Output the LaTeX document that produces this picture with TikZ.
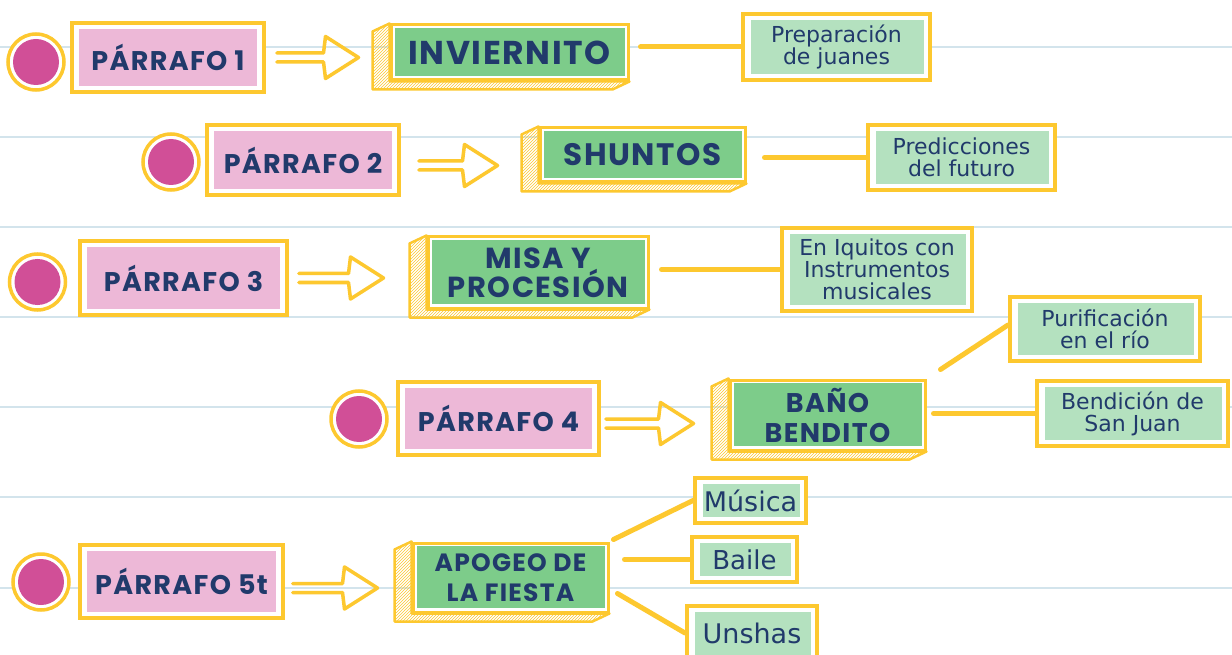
\documentclass[tikz,border=0pt]{standalone}
\usepackage{fontspec}
\setmainfont{DejaVu Sans}
\newfontfamily\hfont{Poppins}[LetterSpace=5]
\usetikzlibrary{patterns,backgrounds,calc}
\definecolor{ylw}{HTML}{FDC82F}
\definecolor{pinkf}{HTML}{EDB8D7}
\definecolor{magf}{HTML}{D14F97}
\definecolor{greenf}{HTML}{7DCC8A}
\definecolor{lgreen}{HTML}{B4E1BF}
\definecolor{navy}{HTML}{213A6B}
\definecolor{rulec}{HTML}{D3E4EC}
\tikzset{
 x=1pt,y=-1pt,
 frm/.style={draw=ylw, line width=3.5pt, fill=white, inner sep=0pt, text=navy, align=center},
 pbox/.style={frm, path picture={\fill[pinkf] ([shift={(7pt,-6pt)}]path picture bounding box.north west) rectangle ([shift={(-7pt,6pt)}]path picture bounding box.south east);}, font=\hfont\bfseries\fontsize{27}{29}\selectfont},
 gbox/.style n args={2}{frm, line width=3pt, path picture={\fill[greenf] ([shift={(4pt,-3pt)}]path picture bounding box.north west) rectangle ([shift={(-3pt,4pt)}]path picture bounding box.south east);}, font=\hfont\bfseries\fontsize{#1}{#2}\selectfont},
 lbox/.style={frm, line width=4pt, path picture={\fill[lgreen] ([shift={(8pt,-6pt)}]path picture bounding box.north west) rectangle ([shift={(-6pt,6pt)}]path picture bounding box.south east);}, font=\fontsize{#1}{22}\selectfont},
 dotc/.style={circle, draw=ylw, line width=3.5pt, fill=white, minimum size=56pt, inner sep=0pt, path picture={\fill[magf] (path picture bounding box.center) circle (23pt);}},
 ext/.style={draw=ylw, line width=2.5pt, line join=round, pattern=north east lines, pattern color=ylw},
 arr/.style={draw=ylw, line width=3.5pt, line join=round, line cap=round},
 con/.style={draw=ylw, line width=5pt, line cap=round},
 rulel/.style={draw=rulec, line width=2pt},
}
\newcommand\harrow[2]{\draw[arr] let \p1=(#1), \p2=(#2) in
  (\x1,\y1+4.5pt) -- (\x2-35pt,\y1+4.5pt) -- (\x2-33pt,\y1+21pt) -- (\x2,\y1)
  -- (\x2-33pt,\y1-21pt) -- (\x2-35pt,\y1-4.5pt) -- (\x1,\y1-4.5pt);}
\newcommand\extr[1]{\draw[ext] (#1.north west) -- ++(-17pt,-8pt) -- ($(#1.south west)+(-17pt,-8pt)$)
  -- ($(#1.south east)+(-17pt,-8pt)$) -- (#1.south east) -- (#1.south west) -- cycle;}
\begin{document}
\begin{tikzpicture}
\useasboundingbox (0,0) rectangle (1232,655);
% row 1
\node[dotc] (c1) at (36,62) {};
\node[pbox, minimum width=192pt, minimum height=69pt] (p1) at (168,57.5) {PÁRRAFO 1};
\node[gbox={33}{35}, minimum width=237pt, minimum height=55pt] (g1) at (509.5,52.5) {INVIERNITO};
\node[lbox=22, minimum width=187pt, minimum height=66pt] (r1) at (836.5,47) {Preparación\\de juanes};
% row 2
\node[dotc] (c2) at (171,162) {};
\node[pbox, minimum width=192pt, minimum height=70pt] (p2) at (303,160) {PÁRRAFO 2};
\node[gbox={31}{33}, minimum width=205pt, minimum height=54pt] (g2) at (642.5,155) {SHUNTOS};
\node[lbox=22, minimum width=187pt, minimum height=65pt] (r2) at (961.5,157.5) {Predicciones\\del futuro};
% row 3
\node[dotc] (c3) at (37.5,282) {};
\node[pbox, minimum width=207pt, minimum height=74pt] (p3) at (183.5,278) {PÁRRAFO 3};
\node[gbox={29}{29}, minimum width=220pt, minimum height=71pt] (g3) at (538,272.5) {MISA Y\\PROCESIÓN};
\node[lbox=22, minimum width=190pt, minimum height=83pt] (r3) at (877,269.5) {En Iquitos con\\Instrumentos\\musicales};
% row 4
\node[dotc] (c4) at (359,419) {};
\node[pbox, minimum width=201pt, minimum height=73pt] (p4) at (498.5,418.5) {PÁRRAFO 4};
\node[gbox={27}{30}, minimum width=195pt, minimum height=70pt] (g4) at (827.5,415) {BAÑO\\BENDITO};
\node[lbox=22, minimum width=190pt, minimum height=64pt] (r4a) at (1105,329) {Purificación\\en el río};
\node[lbox=22, minimum width=191pt, minimum height=65pt] (r4b) at (1132.5,413.5) {Bendición de\\San Juan};
% row 5
\node[dotc] (c5) at (41,582) {};
\node[pbox, minimum width=203pt, minimum height=73pt] (p5) at (181.5,581.5) {PÁRRAFO 5t};
\node[gbox={25}{30}, minimum width=195pt, minimum height=69pt] (g5) at (510.5,577.5) {APOGEO DE\\LA FIESTA};
\node[lbox=27, minimum width=111pt, minimum height=45pt] (r5a) at (750.5,500.5) {Música};
\node[lbox=26, minimum width=105pt, minimum height=45pt] (r5b) at (744.5,559.5) {Baile};
\node[lbox=27, minimum width=130pt, minimum height=55pt] (r5c) at (752,633) {Unshas};
% arrows
\harrow{$(p1.east)+(11pt,0pt)$}{$(g1.west)+(-31pt,0pt)$}
\harrow{$(p2.east)+(18pt,-5.5pt)$}{$(g2.west)+(-41pt,0pt)$}
\harrow{$(p3.east)+(10pt,0pt)$}{$(g3.west)+(-43pt,0pt)$}
\harrow{$(p4.east)+(5pt,-5pt)$}{$(g4.west)+(-35pt,0pt)$}
\harrow{$(p5.east)+(8pt,-6.5pt)$}{$(g5.west)+(-34pt,0pt)$}
\begin{scope}[on background layer]
\fill[white] (0,0) rectangle (1232,655);
\foreach \yy in {47,137,227,317,407,497,588}
  \draw[rulel] (0,\yy) -- (1232,\yy);
\extr{g1}\extr{g2}\extr{g3}\extr{g4}\extr{g5}
\draw[con] ($(g1.east |- r1.west)+(11pt,0pt)$) -- (r1.west);
\draw[con] ($(g2.east |- r2.west)+(18pt,0pt)$) -- (r2.west);
\draw[con] ($(g3.east |- r3.west)+(12pt,0pt)$) -- (r3.west);
\draw[con] ($(g4.north east)+(14pt,9pt)$) -- ($(r4a.west)+(0pt,4pt)$);
\draw[con] ($(g4.east |- r4b.west)+(7pt,0pt)$) -- (r4b.west);
\draw[con] ($(g5.north east)+(4pt,2pt)$) -- (r5a.west);
\draw[con] ($(g5.east |- r5b.west)+(15pt,0pt)$) -- (r5b.west);
\draw[con] ($(g5.south east)+(8pt,20pt)$) -- (r5c.west);
\end{scope}
\end{tikzpicture}
\end{document}
